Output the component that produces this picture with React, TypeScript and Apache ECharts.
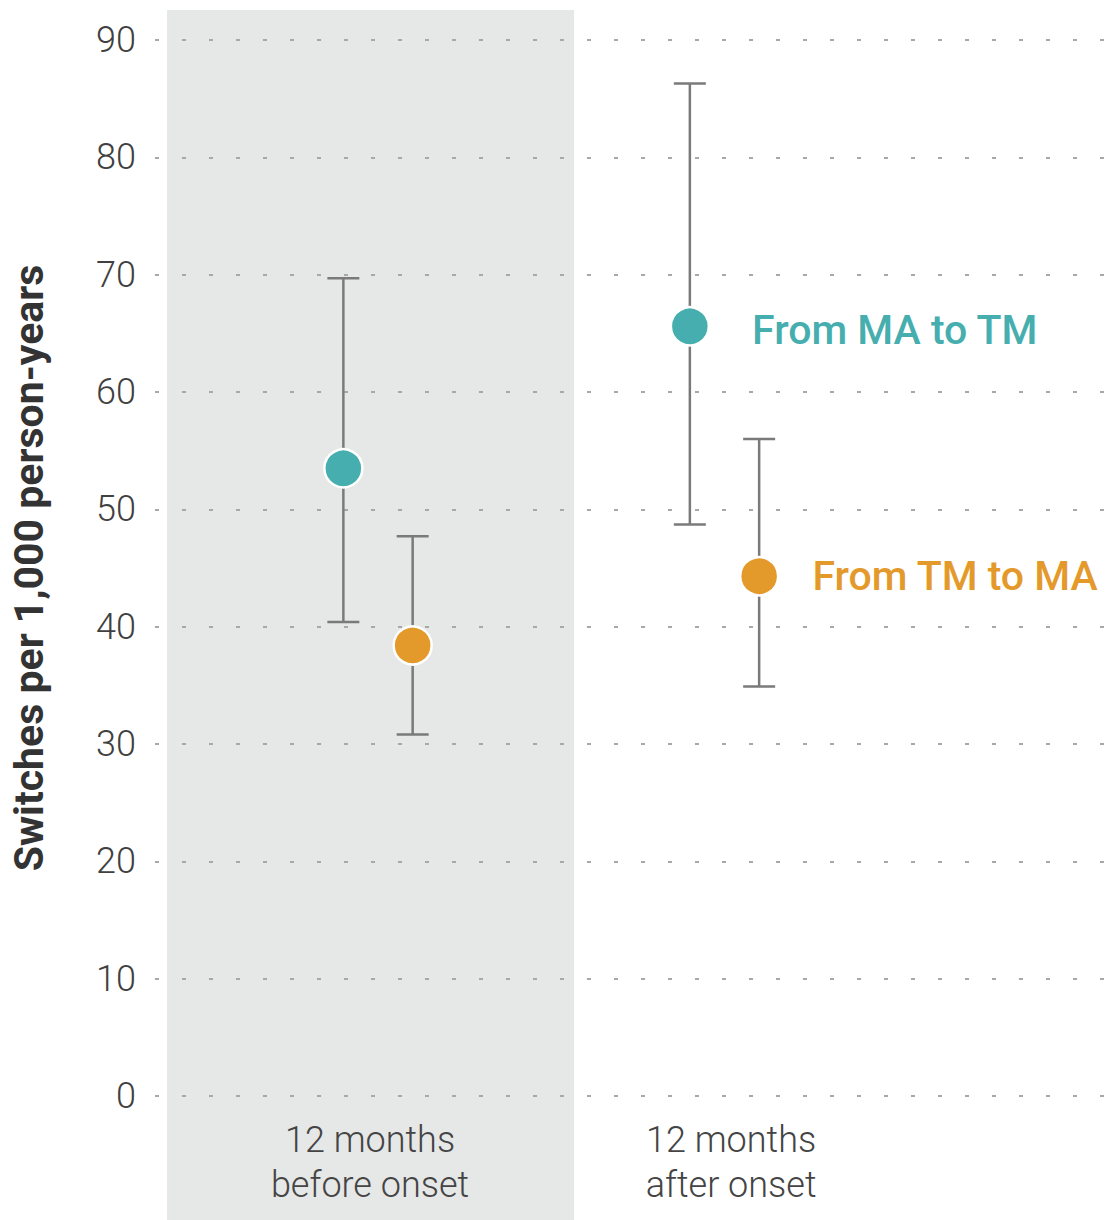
import React, { useEffect, useRef } from "react";
import * as echarts from "echarts";

const categories = ["12 months\nbefore onset", "12 months\nafter onset"];
const categoryPos = [0, 1];
const yTicks = [0, 10, 20, 30, 40, 50, 60, 70, 80, 90];

const maToTm = [53.5, 65.6];
const maToTmLow = [40.4, 48.7];
const maToTmHigh = [69.7, 86.3];

const tmToMa = [38.4, 44.3];
const tmToMaLow = [30.8, 34.9];
const tmToMaHigh = [47.7, 56.0];

// shaded period: "12 months before onset"
const bandRange = [-0.609, 0.566];

const TEAL = "#46aeae";
const ORANGE = "#e49a2b";
const BAR = "#7a7a7a";
const FONT = "Roboto, 'Noto Sans', sans-serif";
const OFFSET = 0.1;

export default function App() {
  const ref = useRef<HTMLDivElement>(null);
  useEffect(() => {
    document.body.style.margin = "0";
    const chart = echarts.init(ref.current!, null, { renderer: "svg" });

    const errSeries = (name: string, off: number, lo: number[], hi: number[]) => ({
      type: "custom",
      name: name + " CI",
      z: 3,
      silent: true,
      data: categoryPos.map((c, i) => [c + off, lo[i], hi[i]]),
      encode: { x: 0, y: [1, 2] },
      renderItem: (params: any, api: any) => {
        const x = api.value(0);
        const pLo = api.coord([x, api.value(1)]);
        const pHi = api.coord([x, api.value(2)]);
        const cap = 16;
        const style = { stroke: BAR, lineWidth: 2.5 };
        return {
          type: "group",
          children: [
            { type: "line", shape: { x1: pLo[0], y1: pLo[1], x2: pHi[0], y2: pHi[1] }, style },
            { type: "line", shape: { x1: pHi[0] - cap, y1: pHi[1], x2: pHi[0] + cap, y2: pHi[1] }, style },
            { type: "line", shape: { x1: pLo[0] - cap, y1: pLo[1], x2: pLo[0] + cap, y2: pLo[1] }, style },
          ],
        };
      },
    });

    const pointSeries = (name: string, off: number, vals: number[], color: string, dist: number, dy: number) => ({
      type: "scatter",
      name,
      z: 5,
      symbolSize: 38,
      itemStyle: { color, borderColor: "#ffffff", borderWidth: 2.5, opacity: 1 },
      data: categoryPos.map((c, i) => ({
        value: [c + off, vals[i]],
        label: {
          show: i === categoryPos.length - 1,
          position: "right",
          distance: dist,
          offset: [0, dy],
          formatter: "{a}",
          color,
          fontFamily: FONT,
          fontWeight: 500,
          fontSize: 41,
        },
      })),
    });

    chart.setOption({
      animation: false,
      grid: { left: 155, right: 0, top: 40, bottom: 124 },
      xAxis: {
        type: "value",
        min: -0.6436,
        max: 2.101,
        splitLine: { show: false },
        axisLine: { show: false },
        axisTick: { show: false },
        axisLabel: {
          customValues: [-0.023, 1.019],
          formatter: (v: number) => (v < 0.5 ? categories[0] : categories[1]),
          color: "#444444",
          fontFamily: FONT,
          fontWeight: 300,
          fontSize: 36,
          lineHeight: 45,
          margin: 21,
        },
      },
      yAxis: {
        type: "value",
        min: yTicks[0],
        max: yTicks[yTicks.length - 1],
        interval: 10,
        name: "Switches per 1,000 person-years",
        nameLocation: "middle",
        nameRotate: 90,
        nameGap: 106,
        nameTextStyle: { color: "#333333", fontFamily: FONT, fontWeight: 700, fontSize: 41 },
        axisLine: { show: false },
        axisTick: { show: false },
        axisLabel: { color: "#404040", fontFamily: FONT, fontWeight: 300, fontSize: 36, margin: 19 },
        splitLine: {
          show: true,
          lineStyle: { color: "#a8a8a8", width: 2, type: [4, 23] },
        },
      },
      series: [
        {
          type: "custom",
          name: "band",
          z: 0,
          silent: true,
          clip: false,
          data: [[bandRange[0], bandRange[1]]],
          encode: { x: [0, 1] },
          renderItem: (params: any, api: any) => {
            const x0 = api.coord([api.value(0), 0])[0];
            const x1 = api.coord([api.value(1), 0])[0];
            const cs = params.coordSys;
            return {
              type: "rect",
              z2: -10,
              shape: { x: x0, y: cs.y - 30, width: x1 - x0, height: cs.height + 30 + 200 },
              style: { fill: "#e6e7e7" },
            };
          },
        },
        errSeries("From MA to TM", -OFFSET, maToTmLow, maToTmHigh),
        errSeries("From TM to MA", OFFSET, tmToMaLow, tmToMaHigh),
        pointSeries("From MA to TM", -OFFSET, maToTm, TEAL, 42, 4),
        pointSeries("From TM to MA", OFFSET, tmToMa, ORANGE, 33, 0),
      ],
    });
    return () => chart.dispose();
  }, []);
  return <div ref={ref} style={{ width: 1106, height: 1220 }} />;
}
